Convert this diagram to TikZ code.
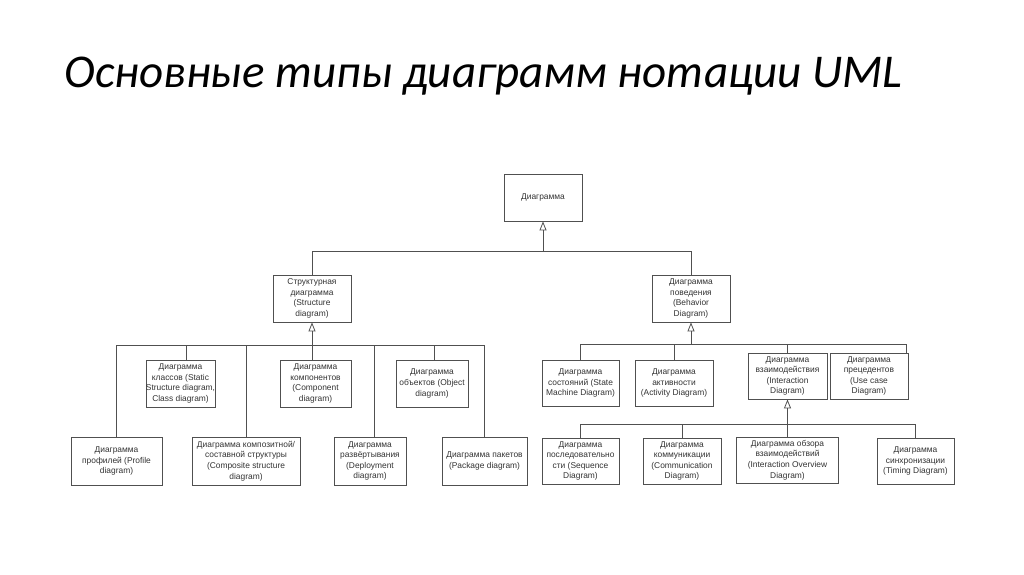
\documentclass[tikz,border=0pt]{standalone}
\usepackage{fontspec}
\setmainfont{Liberation Sans}
\newfontfamily\titlefont{Carlito}
\usetikzlibrary{arrows.meta}
\definecolor{linecol}{HTML}{505050}
\definecolor{textcol}{HTML}{333333}
\begin{document}
\begin{tikzpicture}[x=1pt,y=-1pt,
  umlbox/.style={draw=linecol, line width=0.8pt, fill=white, align=center, inner sep=0pt, text=textcol, font=\fontsize{8.4}{10.6}\selectfont},
  conn/.style={draw=linecol, line width=0.8pt},
  gen/.style={conn, -{Triangle[open,width=7pt,length=9pt]}}]
\useasboundingbox[fill=white] (0,0) rectangle (1024,574);

\node[anchor=base west, font=\titlefont\itshape\fontsize{47}{56}\selectfont] (title) at (61,87) {Основные типы диаграмм нотации UML};

% level 0/1
\node[umlbox, minimum width=78pt, minimum height=47pt] (root) at (543,197.5) {Диаграмма};
\node[umlbox, minimum width=78pt, minimum height=47pt] (struct) at (312,298.5) {Структурная\\диаграмма\\(Structure\\diagram)};
\node[umlbox, minimum width=78pt, minimum height=47pt] (behav) at (691,298.5) {Диаграмма\\поведения\\(Behavior\\Diagram)};

% structure children
\node[umlbox, minimum width=69pt, minimum height=47pt] (classes) at (180.5,383.5) {Диаграмма\\классов (Static\\Structure diagram,\\Class diagram)};
\node[umlbox, minimum width=71pt, minimum height=47pt] (component) at (315.5,383.5) {Диаграмма\\компонентов\\(Component\\diagram)};
\node[umlbox, minimum width=72pt, minimum height=47pt] (objects) at (432,383.5) {Диаграмма\\объектов (Object\\diagram)};
\node[umlbox, minimum width=91pt, minimum height=48pt] (profile) at (116.5,461) {Диаграмма\\профилей (Profile\\diagram)};
\node[umlbox, minimum width=108pt, minimum height=48pt] (composite) at (246,461) {Диаграмма композитной/\\составной структуры\\(Composite structure\\diagram)};
\node[umlbox, minimum width=72pt, minimum height=48pt] (deployment) at (370,461) {Диаграмма\\развёртывания\\(Deployment\\diagram)};
\node[umlbox, minimum width=85pt, minimum height=48pt] (package) at (484.5,461) {Диаграмма пакетов\\(Package diagram)};

% behavior children
\node[umlbox, minimum width=77pt, minimum height=46pt] (state) at (580.5,383) {Диаграмма\\состояний (State\\Machine Diagram)};
\node[umlbox, minimum width=78pt, minimum height=46pt] (activity) at (674,383) {Диаграмма\\активности\\(Activity Diagram)};
\node[umlbox, minimum width=79pt, minimum height=46pt] (interaction) at (787.5,376) {Диаграмма\\взаимодействия\\(Interaction\\Diagram)};
\node[umlbox, minimum width=78pt, minimum height=46pt] (usecase) at (869,376) {Диаграмма\\прецедентов\\(Use case\\Diagram)};
\node[umlbox, minimum width=77pt, minimum height=46pt] (sequence) at (580.5,461) {Диаграмма\\последовательно\\сти (Sequence\\Diagram)};
\node[umlbox, minimum width=78pt, minimum height=46pt] (communication) at (682,461) {Диаграмма\\коммуникации\\(Communication\\Diagram)};
\node[umlbox, minimum width=102pt, minimum height=46pt] (overview) at (787.5,460) {Диаграмма обзора\\взаимодействий\\(Interaction Overview\\Diagram)};
\node[umlbox, minimum width=77pt, minimum height=46pt] (timing) at (915.5,461) {Диаграмма\\синхронизации\\(Timing Diagram)};

% root connectors
\coordinate (rb) at (543,251);
\draw[conn] (struct.north) |- (rb);
\draw[conn] (behav.north) |- (rb);
\draw[gen] (rb) -- (root.south);

% structure connectors
\coordinate (sb) at (312,345.5);
\draw[conn] (profile.north) |- (sb);
\draw[conn] ([xshift=5.5pt]classes.north) |- (sb);
\draw[conn] (composite.north) |- (sb);
\draw[conn] ([xshift=-3.5pt]component.north) |- (sb);
\draw[conn] ([xshift=4pt]deployment.north) |- (sb);
\draw[conn] ([xshift=2pt]objects.north) |- (sb);
\draw[conn] (package.north) |- (sb);
\draw[gen] (sb) -- (struct.south);

% behavior connectors
\coordinate (bb) at (691,344.5);
\draw[conn] (state.north) |- (bb);
\draw[conn] (activity.north) |- (bb);
\draw[conn] (interaction.north) |- (bb);
\draw[conn] ([xshift=37pt]usecase.north) |- (bb);
\draw[gen] (bb) -- (behav.south);

% interaction connectors
\coordinate (ib) at (787.5,424);
\draw[conn] (sequence.north) |- (ib);
\draw[conn] (communication.north) |- (ib);
\draw[conn] (timing.north) |- (ib);
\draw[gen] (overview.north) -- (interaction.south);
\end{tikzpicture}
\end{document}
